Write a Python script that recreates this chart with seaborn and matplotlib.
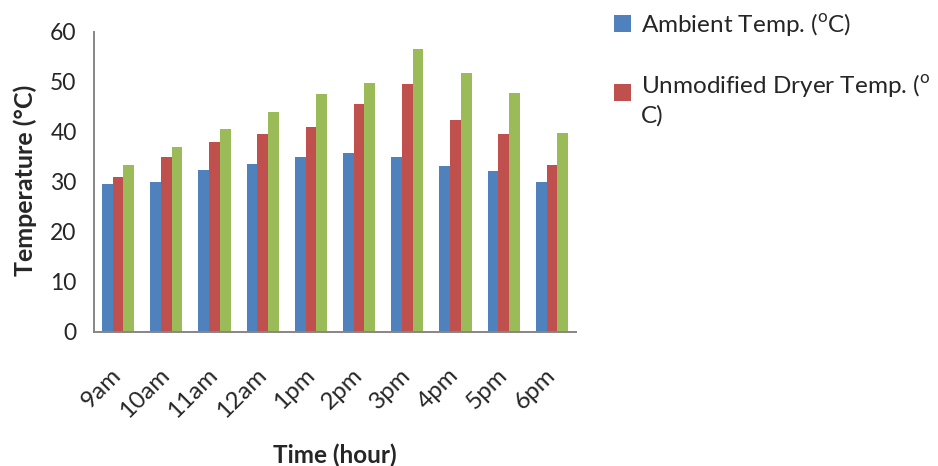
import matplotlib
matplotlib.use("Agg")
import matplotlib.pyplot as plt
import seaborn as sns
import pandas as pd
import numpy as np
from matplotlib.patches import Rectangle

hours = ["9am", "10am", "11am", "12am", "1pm", "2pm", "3pm", "4pm", "5pm", "6pm"]
ambient = [29.5, 30.0, 32.4, 33.5, 34.9, 35.7, 35.0, 33.2, 32.1, 30.0]
unmodified = [31.0, 35.0, 37.9, 39.5, 41.0, 45.5, 49.5, 42.4, 39.6, 33.3]
modified = [33.4, 36.9, 40.5, 44.0, 47.5, 49.7, 56.6, 51.7, 47.7, 39.7]
series_names = ["Ambient Temp.", "Unmodified Dryer Temp.", "Modified Dryer Temp."]
colors = ["#4F81BD", "#C0504D", "#9BBB59"]

df = pd.DataFrame({
    "hour": hours * 3,
    "temp": ambient + unmodified + modified,
    "series": [s for s in series_names for _ in hours],
})

sns.set_style("white")
plt.rcParams["font.family"] = ["Lato", "DejaVu Sans"]
plt.rcParams["mathtext.fontset"] = "custom"
plt.rcParams["mathtext.rm"] = "Lato"

W, H = 938, 466
fig = plt.figure(figsize=(W / 100, H / 100), dpi=100)
ax = fig.add_axes([94 / W, 1 - 331.5 / H, 482 / W, 300 / H])

sns.barplot(data=df, x="hour", y="temp", hue="series", order=hours,
            hue_order=series_names, palette=colors, width=0.667, gap=0,
            saturation=1, linewidth=0, edgecolor="none", legend=False, ax=ax)

ax.set_ylim(0, 60)
ax.set_xlim(-0.5, len(hours) - 0.5)
ax.set_yticks(np.arange(0, 61, 10))
ax.set_xticks(np.arange(-0.5, len(hours), 1.0), minor=True)

axis_grey = "#868686"
for s in ["top", "right"]:
    ax.spines[s].set_visible(False)
for s in ["left", "bottom"]:
    ax.spines[s].set_color(axis_grey)
    ax.spines[s].set_linewidth(1.4)

ax.tick_params(axis="y", which="major", length=7.5, width=1.4, color=axis_grey,
               labelsize=16.5, pad=5)
ax.tick_params(axis="x", which="major", length=0, labelsize=17.5, pad=29)
ax.tick_params(axis="x", which="minor", length=7.5, width=1.4, color=axis_grey,
               direction="out")
plt.setp(ax.get_xticklabels(), rotation=45, ha="right", va="center",
         rotation_mode="anchor")

ax.set_xlabel("Time (hour)", fontsize=17.5, fontweight="bold")
ax.xaxis.set_label_coords(0.5, -0.372)
ax.set_ylabel("Temperature (\u00b0C)", fontsize=18, fontweight="bold")
ax.yaxis.set_label_coords(-0.118, 0.505)

# legend entries for the first two series (label wraps as in the source layout)
def fx(px):
    return px / W

def fy(py):
    return 1 - py / H

sq = 17
for color, top in zip(colors[:2], [15, 84]):
    fig.add_artist(Rectangle((fx(614), fy(top + sq)), sq / W, sq / H,
                             transform=fig.transFigure, facecolor=color,
                             edgecolor="none"))
leg_fs = 17.5
fig.text(fx(641), fy(32), series_names[0] + " ($^{\\rm o}$C)",
         fontsize=leg_fs, va="baseline", ha="left")
fig.text(fx(641), fy(93), series_names[1] + " ($^{\\rm o}$",
         fontsize=leg_fs, va="baseline", ha="left")
fig.text(fx(641), fy(123), "C)", fontsize=leg_fs, va="baseline", ha="left")

fig.savefig("out.png", dpi=100)
